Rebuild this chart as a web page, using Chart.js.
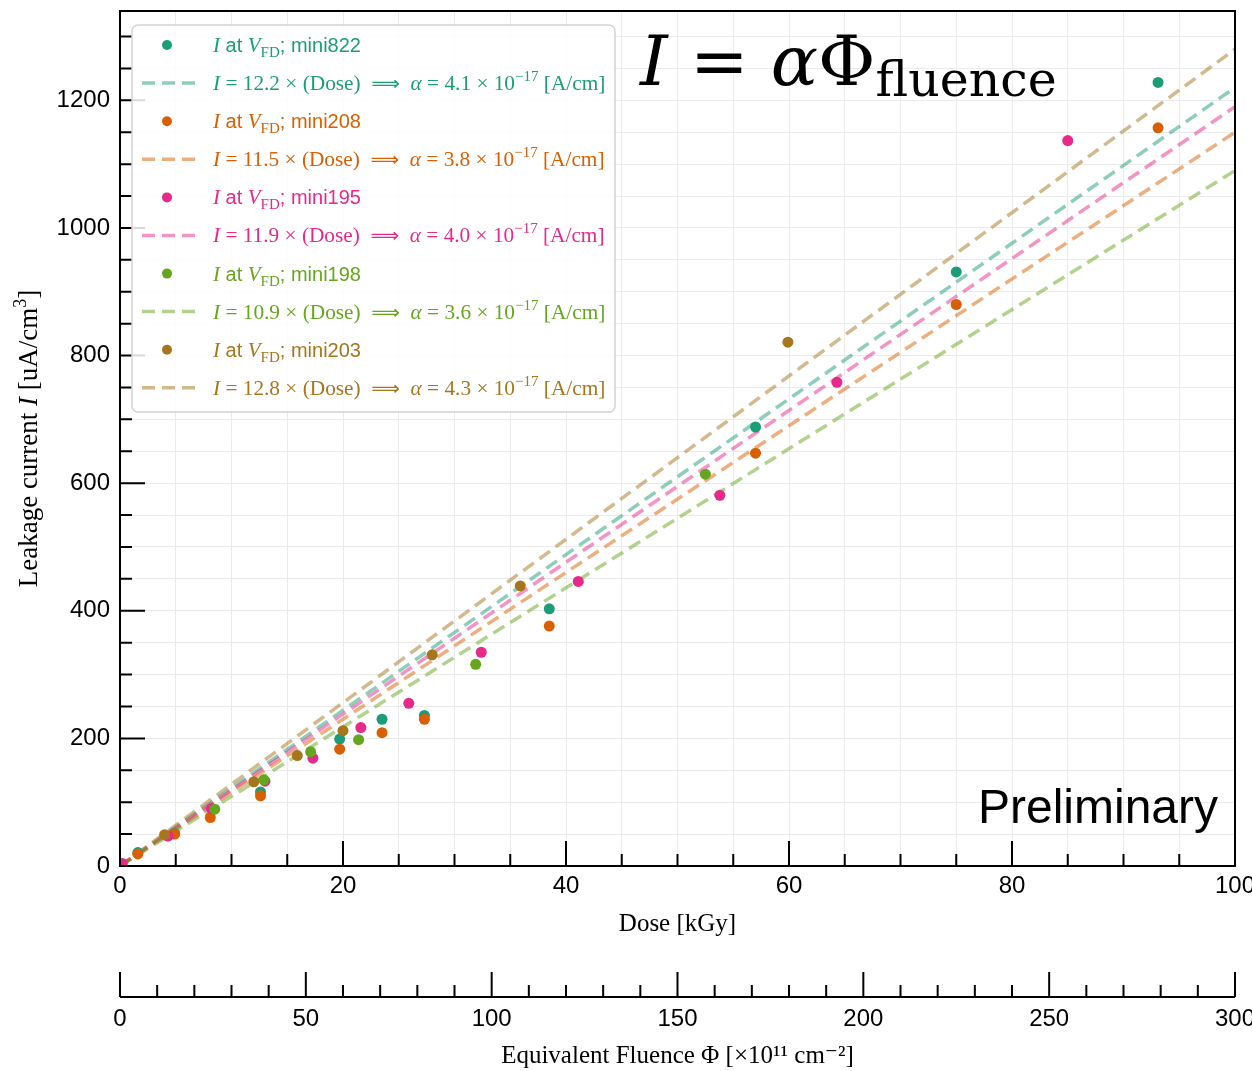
<!DOCTYPE html>
<html>
<head>
<meta charset="utf-8">
<script src="https://cdn.jsdelivr.net/npm/chart.js@4.4.0/dist/chart.umd.min.js"></script>
<style>
  html, body { margin: 0; padding: 0; background: #fff; }
  #wrap { width: 1252px; height: 1071px; position: relative; }
</style>
</head>
<body>
<div id="wrap"><canvas id="c" width="1252" height="1071"></canvas></div>
<script>
// sensors and colours (Dark2)
const sensors = ['mini822', 'mini208', 'mini195', 'mini198', 'mini203'];
const dark  = ['#1b9e77', '#d95f02', '#e7298a', '#66a61e', '#a6761d'];
const light = ['rgba(27,158,119,0.5)', 'rgba(217,95,2,0.5)', 'rgba(231,41,138,0.5)',
               'rgba(102,166,30,0.5)', 'rgba(166,118,29,0.5)'];

// leakage current at V_FD: [dose kGy, I uA/cm3]
const mini822 = [[1.6,21],[4.9,51],[12.6,116],[19.7,199],[23.5,230],[27.3,236],[38.5,403],[57.0,688],[75.0,931],[93.1,1228]];
const mini208 = [[1.6,19],[4.9,50],[8.1,76],[12.6,110],[19.7,183],[23.5,209],[27.3,230],[38.5,376],[57.0,647],[75.0,880],[93.1,1157]];
const mini195 = [[0.2,4],[4.3,47],[8.2,90],[13.0,133],[17.3,169],[21.6,217],[25.9,255],[32.4,335],[41.1,446],[53.8,581],[64.3,758],[85.0,1137]];
const mini198 = [[8.5,89],[12.9,135],[17.1,179],[21.4,198],[31.9,316],[52.5,614]];
const mini203 = [[4.0,49],[12.0,132],[15.9,173],[20.0,212],[28.0,331],[35.9,439],[59.9,821]];

// linear fits I = slope * Dose and the damage constant alpha (x1e-17 A/cm)
const slopes = [12.2, 11.5, 11.9, 10.9, 12.8];
const alphas = ['4.1', '3.8', '4.0', '3.6', '4.3'];

const doseRange = [0, 100];
const fluenceRange = [0, 300];
const currentRange = [0, 1340];

const SERIF = "'Liberation Serif', 'DejaVu Serif', serif";
const SANS = "'Liberation Sans', 'DejaVu Sans', sans-serif";
const MATH = "'DejaVu Serif', serif";

const series = [mini822, mini208, mini195, mini198, mini203];
const datasets = [];
series.forEach((pts, i) => {
  datasets.push({
    label: 'I at V_FD; ' + sensors[i],
    data: pts.map(p => ({ x: p[0], y: p[1] })),
    showLine: false,
    pointRadius: 5.5, pointHoverRadius: 5.5,
    pointBackgroundColor: dark[i], pointBorderWidth: 0,
    order: 4 - i
  });
  datasets.push({
    label: 'fit ' + sensors[i],
    data: [{ x: doseRange[0], y: 0 }, { x: doseRange[1], y: slopes[i] * doseRange[1] }],
    showLine: true,
    borderColor: light[i], borderWidth: 3.5, borderDash: [13, 7],
    pointRadius: 0, order: 14 - i
  });
});

function drawRuns(ctx, runs, x, y, align) {
  let w = 0;
  runs.forEach(r => { ctx.font = r[1]; w += ctx.measureText(r[0]).width; });
  let cx = align === 'center' ? x - w / 2 : (align === 'right' ? x - w : x);
  ctx.textAlign = 'left';
  ctx.textBaseline = 'alphabetic';
  runs.forEach(r => {
    ctx.font = r[1];
    ctx.fillText(r[0], cx, y + (r[2] || 0));
    cx += ctx.measureText(r[0]).width;
  });
}

const decor = {
  id: 'decor',
  afterDraw(chart) {
    const ctx = chart.ctx;
    const a = chart.chartArea;
    const sx = chart.scales.x, sy = chart.scales.y, s2 = chart.scales.x2;
    ctx.save();
    ctx.strokeStyle = '#000';
    ctx.lineWidth = 2;
    ctx.setLineDash([]);
    ctx.strokeRect(a.left, a.top, a.right - a.left, a.bottom - a.top);

    ctx.beginPath();
    for (let v = doseRange[0]; v <= doseRange[1]; v += 5) {
      const px = sx.getPixelForValue(v);
      const len = v % 20 === 0 ? 25 : 12;
      ctx.moveTo(px, a.bottom); ctx.lineTo(px, a.bottom - len);
    }
    for (let v = 0; v <= 1300; v += 50) {
      const py = sy.getPixelForValue(v);
      const len = v % 200 === 0 ? 25 : 12;
      ctx.moveTo(a.left, py); ctx.lineTo(a.left + len, py);
    }
    // fluence axis
    const y2 = s2.top;
    ctx.moveTo(s2.left, y2); ctx.lineTo(s2.right, y2);
    for (let v = fluenceRange[0]; v <= fluenceRange[1]; v += 10) {
      const px = s2.getPixelForValue(v);
      const len = v % 50 === 0 ? 25 : 12;
      ctx.moveTo(px, y2); ctx.lineTo(px, y2 - len);
    }
    ctx.stroke();

    // y title
    ctx.fillStyle = '#000';
    ctx.save();
    ctx.translate(28, (a.top + a.bottom) / 2);
    ctx.rotate(-Math.PI / 2);
    drawRuns(ctx, [
      ['Leakage current ', '27px ' + SERIF],
      ['I', 'italic 27px ' + SERIF],
      [' [uA/cm', '27px ' + SERIF],
      ['3', '18px ' + SERIF, -11],
      [']', '27px ' + SERIF]
    ], 0, 9, 'center');
    ctx.restore();

    // formula
    drawRuns(ctx, [
      ['I', 'italic 70px ' + MATH],
      [' = ', '70px ' + MATH],
      ['α', 'italic 70px ' + MATH],
      ['Φ', '70px ' + MATH],
      ['fluence', '49px ' + MATH, 11]
    ], 640, 85, 'left');

    ctx.font = '48px ' + SANS;
    ctx.textAlign = 'right';
    ctx.fillText('Preliminary', 1218, 823);

    // legend
    const lx = 132, ly = 25, lw = 483, lh = 387;
    ctx.beginPath();
    ctx.roundRect(lx, ly, lw, lh, 6);
    ctx.fillStyle = 'rgba(255,255,255,0.85)';
    ctx.fill();
    ctx.strokeStyle = '#d3d3d3';
    ctx.lineWidth = 1.5;
    ctx.stroke();
    sensors.forEach((name, i) => {
      const y1 = 45 + i * 76.2, yl = y1 + 38;
      ctx.fillStyle = dark[i];
      ctx.beginPath();
      ctx.arc(167, y1, 5, 0, Math.PI * 2);
      ctx.fill();
      drawRuns(ctx, [
        ['I', 'italic 21px ' + SERIF],
        [' at ', '20px ' + SANS],
        ['V', 'italic 21px ' + SERIF],
        ['FD', '15px ' + SERIF, 5],
        ['; ' + name, '20px ' + SANS]
      ], 213, y1 + 7, 'left');
      ctx.strokeStyle = light[i];
      ctx.lineWidth = 3.5;
      ctx.setLineDash([13, 7]);
      ctx.beginPath();
      ctx.moveTo(142, yl); ctx.lineTo(195, yl);
      ctx.stroke();
      ctx.setLineDash([]);
      ctx.fillStyle = dark[i];
      drawRuns(ctx, [
        ['I', 'italic 21.3px ' + SERIF],
        [' = ' + slopes[i].toFixed(1) + ' × (Dose)  ', '21.3px ' + SERIF],
        ['⟹', "20px 'DejaVu Sans'"],
        ['  ', '21.3px ' + SERIF],
        ['α', 'italic 21.3px ' + SERIF],
        [' = ' + alphas[i] + ' × 10', '21.3px ' + SERIF],
        ['−17', '15px ' + SERIF, -9],
        [' [A/cm]', '21.3px ' + SERIF]
      ], 213, yl + 7, 'left');
    });
    ctx.restore();
  }
};

new Chart(document.getElementById('c'), {
  type: 'scatter',
  data: { datasets },
  options: {
    responsive: false,
    animation: false,
    layout: { padding: { top: 11, right: 17, bottom: 0, left: 0 } },
    plugins: { legend: { display: false }, tooltip: { enabled: false } },
    scales: {
      x: {
        type: 'linear', position: 'bottom',
        min: doseRange[0], max: doseRange[1],
        ticks: {
          stepSize: 5, autoSkip: false, maxRotation: 0, padding: 6,
          color: '#000', font: { family: SANS, size: 24 },
          callback: v => (v % 20 === 0 ? v : '')
        },
        grid: { color: '#ebebeb', lineWidth: 1, drawTicks: false },
        border: { display: false },
        title: { display: true, text: 'Dose [kGy]', color: '#000',
                 font: { family: SERIF, size: 25 }, padding: { top: 0, bottom: 58 } },
        afterFit: s => { s.height = 131; s.paddingLeft = 0; s.paddingRight = 0; }
      },
      x2: {
        type: 'linear', position: 'bottom',
        min: fluenceRange[0], max: fluenceRange[1],
        ticks: {
          stepSize: 50, autoSkip: false, maxRotation: 0, padding: 8,
          color: '#000', font: { family: SANS, size: 24 }
        },
        grid: { display: false, drawTicks: false },
        border: { display: false },
        title: { display: true, text: 'Equivalent Fluence Φ [×10¹¹ cm⁻²]', color: '#000',
                 font: { family: SERIF, size: 25 }, padding: { top: 0, bottom: 0 } },
        afterFit: s => { s.height = 74; s.paddingLeft = 0; s.paddingRight = 0; }
      },
      y: {
        type: 'linear', position: 'left',
        min: currentRange[0], max: currentRange[1],
        ticks: {
          stepSize: 50, includeBounds: false, autoSkip: false, padding: 10,
          color: '#000', font: { family: SANS, size: 24 },
          callback: v => (v % 200 === 0 ? v : '')
        },
        grid: { color: '#ebebeb', lineWidth: 1, drawTicks: false },
        border: { display: false },
        afterFit: s => { s.width = 120; s.paddingTop = 0; s.paddingBottom = 0; }
      }
    }
  },
  plugins: [decor]
});
</script>
</body>
</html>
